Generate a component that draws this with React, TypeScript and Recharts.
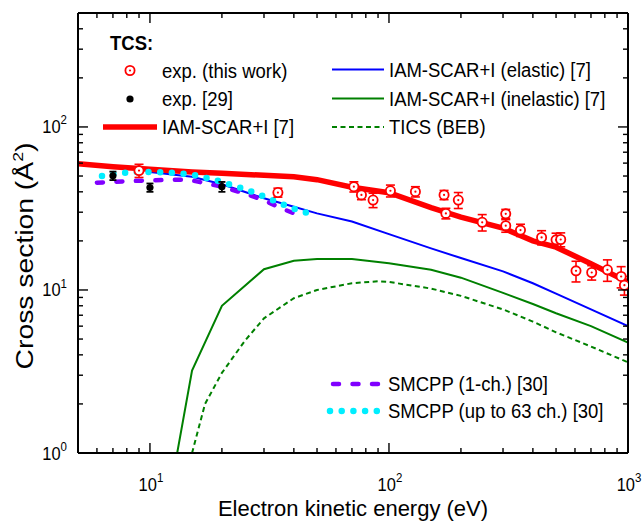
import React from 'react';
import { ComposedChart, Line, Scatter, XAxis, YAxis, ErrorBar } from 'recharts';

// ---------- axis ticks ----------
const X_TICKS = [6, 7, 8, 9, 10, 20, 30, 40, 50, 60, 70, 80, 90, 100, 200, 300, 400, 500, 600, 700, 800, 900, 1000];
const X_MAJOR = [10, 100, 1000];
const Y_TICKS = [1, 2, 3, 4, 5, 6, 7, 8, 9, 10, 20, 30, 40, 50, 60, 70, 80, 90, 100, 200, 300, 400];
const Y_MAJOR = [1, 10, 100];

// ---------- IAM-SCAR+I total ----------
const totalE = [5, 7, 10, 15, 20, 30, 40, 50, 70, 100, 150, 200, 300, 400, 500, 700, 1000];
const totalCS = [59.5, 57, 55, 53, 52, 50.5, 49.5, 47.5, 42.7, 39.5, 32, 28, 24, 20, 18.3, 14.5, 11.2];

// ---------- IAM-SCAR+I elastic ----------
const elasticE = [10, 15, 20, 30, 40, 50, 70, 100, 150, 200, 300, 400, 500, 700, 1000];
const elasticCS = [53, 49.5, 44.5, 36.5, 32.4, 29.5, 26.3, 22, 18, 15.7, 13, 11, 9.5, 7.6, 6.0];

// ---------- IAM-SCAR+I inelastic ----------
const inelE = [13, 15, 20, 30, 40, 50, 70, 100, 150, 200, 300, 400, 500, 700, 1000];
const inelCS = [1.0, 3.2, 8.0, 13.4, 15.1, 15.5, 15.5, 14.6, 13.3, 11.9, 9.6, 8.2, 7.2, 6.0, 4.75];

// ---------- TICS (BEB) ----------
const ticsE = [15, 17, 20, 25, 30, 40, 50, 70, 90, 100, 150, 200, 300, 400, 500, 700, 1000];
const ticsCS = [1.0, 2.0, 3.1, 4.9, 6.7, 8.9, 10, 11.0, 11.3, 11.2, 10.2, 9.2, 7.6, 6.4, 5.5, 4.5, 3.6];

// ---------- SMCPP (1-ch.) ----------
const smc1E = [6, 8, 10, 13, 15, 20, 25, 30, 35, 40, 44];
const smc1CS = [45.5, 46.5, 47, 47.5, 47, 43, 39, 35.5, 32, 29.5, 28];

// ---------- SMCPP (up to 63 ch.) ----------
const smc63E = [6.3, 7, 8, 9, 10, 12, 15, 18, 20, 25, 30, 35, 40, 45];
const smc63CS = [50, 51.5, 52.5, 53, 53, 52.5, 51, 48, 46, 41.5, 37.5, 34, 31.5, 29.8];

// ---------- exp. (this work) ----------
const expE = [9, 34.3, 71.3, 76.7, 85.8, 101.4, 129, 170, 173, 195, 245.5, 308, 308, 355, 435, 500, 523, 606, 705, 820, 936, 966];
const expCS = [54, 39.6, 43, 38.3, 35.6, 40.6, 40.1, 38.3, 29.5, 35.6, 26.0, 29.3, 24.8, 23.3, 21.0, 20.3, 20.4, 13.1, 12.8, 13.3, 12.1, 10.7];
const expErr = [5, 2.5, 3.1, 2.5, 3.6, 3.4, 2.9, 2.5, 2.2, 4, 3, 1.9, 2.2, 2, 2.1, 2, 2, 1.9, 1.3, 2, 1.8, 1.4];

// ---------- exp. [29] ----------
const ref29E = [7, 10, 20];
const ref29CS = [50.2, 42.5, 43];
const ref29Err = [3, 2.5, 3];

const zip = (xs: number[], ys: number[], es?: number[]) =>
  xs.map((x, i) => (es ? { x, y: ys[i], err: es[i] } : { x, y: ys[i] }));

const totalData = zip(totalE, totalCS);
const elasticData = zip(elasticE, elasticCS);
const inelData = zip(inelE, inelCS);
const ticsData = zip(ticsE, ticsCS);
const smc1Data = zip(smc1E, smc1CS);
const smc63Data = zip(smc63E, smc63CS);
const expData = zip(expE, expCS, expErr);
const ref29Data = zip(ref29E, ref29CS, ref29Err);

const FONT = '"Liberation Sans", Arial, Helvetica, sans-serif';
const RED = '#ff0000';
const BLUE = '#0000ff';
const GREEN = '#008000';
const PURPLE = '#8000ff';
const CYAN = '#00eeff';

const STY = {
  total: { stroke: RED, strokeWidth: 5.5 },
  elastic: { stroke: BLUE, strokeWidth: 2 },
  inel: { stroke: GREEN, strokeWidth: 2 },
  tics: { stroke: GREEN, strokeWidth: 2, strokeDasharray: '5 3.5' },
  smc1: { stroke: PURPLE, strokeWidth: 4.5, strokeDasharray: '6 13.5', strokeLinecap: 'round' as const },
  smc63: { stroke: CYAN, strokeWidth: 6.5, strokeDasharray: '0 11.7', strokeLinecap: 'round' as const },
};

const MAJ = 10;
const MIN = 5;
const TICK_W = 1.4;

const sup = (v: number) => Math.round(Math.log10(v));

const TickLabel = ({ x, y, anchor, v }: any) => (
  <text
    transform={`translate(${x},${y}) scale(1,1.12)`}
    x={0}
    y={0}
    textAnchor={anchor}
    fontSize={16.5}
    fontFamily={FONT}
    fill="#000"
  >
    10<tspan dy={-8} fontSize={11.5}>{sup(v)}</tspan>
  </text>
);

const XTickBottom = (p: any) => {
  const { x, y, payload } = p;
  const major = X_MAJOR.includes(payload.value);
  return (
    <g>
      <line x1={x} x2={x} y1={y} y2={y - (major ? MAJ : MIN)} stroke="#000" strokeWidth={TICK_W} />
      {major && <TickLabel x={x + 1} y={y + 37.5} anchor="middle" v={payload.value} />}
    </g>
  );
};

const XTickTop = (p: any) => {
  const { x, y, payload } = p;
  const major = X_MAJOR.includes(payload.value);
  return <line x1={x} x2={x} y1={y} y2={y + (major ? MAJ : MIN)} stroke="#000" strokeWidth={TICK_W} />;
};

const YTickLeft = (p: any) => {
  const { x, y, payload } = p;
  const major = Y_MAJOR.includes(payload.value);
  return (
    <g>
      <line x1={x} x2={x + (major ? MAJ : MIN)} y1={y} y2={y} stroke="#000" strokeWidth={TICK_W} />
      {major && <TickLabel x={x - 11} y={y + 6.5} anchor="end" v={payload.value} />}
    </g>
  );
};

const YTickRight = (p: any) => {
  const { x, y, payload } = p;
  const major = Y_MAJOR.includes(payload.value);
  return <line x1={x} x2={x - (major ? MAJ : MIN)} y1={y} y2={y} stroke="#000" strokeWidth={TICK_W} />;
};

const RedMarker = (p: any) => (
  <g>
    <circle cx={p.cx} cy={p.cy} r={4.6} fill="#fff" stroke={RED} strokeWidth={1.8} />
    <circle cx={p.cx} cy={p.cy} r={1.1} fill={RED} />
  </g>
);

const BlackMarker = (p: any) => <circle cx={p.cx} cy={p.cy} r={3.6} fill="#000" />;

const LegendText = ({ x, y, children, bold }: any) => (
  <text
    transform={`translate(${x},${y}) scale(1,1.1)`}
    x={0}
    y={0}
    fontSize={18.5}
    fontFamily={FONT}
    fontWeight={bold ? 'bold' : 'normal'}
    dominantBaseline="central"
    fill="#000"
  >
    {children}
  </text>
);

export default function App() {
  const axisLine = { stroke: '#000', strokeWidth: 2 };
  return (
    <div style={{ position: 'absolute', left: 0, top: 0, width: 642, height: 521, background: '#fff' }}>
      <ComposedChart width={642} height={521} margin={{ top: 12, right: 13, bottom: 67, left: 77 }}>
        <XAxis
          xAxisId="b"
          dataKey="x"
          type="number"
          scale="log"
          domain={[5, 1000]}
          allowDataOverflow
          ticks={X_TICKS}
          interval={0}
          height={1}
          tickSize={0}
          tickMargin={0}
          tickLine={false}
          axisLine={axisLine}
          tick={<XTickBottom />}
        />
        <XAxis
          xAxisId="t"
          orientation="top"
          dataKey="x"
          type="number"
          scale="log"
          domain={[5, 1000]}
          allowDataOverflow
          ticks={X_TICKS}
          interval={0}
          height={1}
          tickSize={0}
          tickMargin={0}
          tickLine={false}
          axisLine={axisLine}
          tick={<XTickTop />}
        />
        <YAxis
          yAxisId="l"
          type="number"
          scale="log"
          domain={[1, 500]}
          allowDataOverflow
          ticks={Y_TICKS}
          interval={0}
          width={1}
          tickSize={0}
          tickMargin={0}
          tickLine={false}
          axisLine={axisLine}
          tick={<YTickLeft />}
        />
        <YAxis
          yAxisId="r"
          orientation="right"
          type="number"
          scale="log"
          domain={[1, 500]}
          allowDataOverflow
          ticks={Y_TICKS}
          interval={0}
          width={1}
          tickSize={0}
          tickMargin={0}
          tickLine={false}
          axisLine={axisLine}
          tick={<YTickRight />}
        />
        <Line xAxisId="b" yAxisId="l" data={elasticData} dataKey="y" type="linear" dot={false} isAnimationActive={false} {...STY.elastic} />
        <Line xAxisId="b" yAxisId="l" data={inelData} dataKey="y" type="linear" dot={false} isAnimationActive={false} {...STY.inel} />
        <Line xAxisId="b" yAxisId="l" data={ticsData} dataKey="y" type="linear" dot={false} isAnimationActive={false} {...STY.tics} />
        <Line xAxisId="b" yAxisId="l" data={totalData} dataKey="y" type="linear" dot={false} isAnimationActive={false} {...STY.total} />
        <Line xAxisId="b" yAxisId="l" data={smc1Data} dataKey="y" type="linear" dot={false} isAnimationActive={false} {...STY.smc1} />
        <Line xAxisId="b" yAxisId="l" data={smc63Data} dataKey="y" type="linear" dot={false} isAnimationActive={false} {...STY.smc63} />
        <Scatter xAxisId="b" yAxisId="l" data={ref29Data} dataKey="y" shape={<BlackMarker />} isAnimationActive={false}>
          <ErrorBar dataKey="err" direction="y" width={3.5} stroke="#000" strokeWidth={1.8} />
        </Scatter>
        <Scatter xAxisId="b" yAxisId="l" data={expData} dataKey="y" shape={<RedMarker />} isAnimationActive={false}>
          <ErrorBar dataKey="err" direction="y" width={4.5} stroke={RED} strokeWidth={1.6} />
        </Scatter>
      </ComposedChart>

      <svg width={642} height={521} style={{ position: 'absolute', left: 0, top: 0, pointerEvents: 'none' }}>
        {/* legend, left column */}
        <LegendText x={110} y={43} bold>TCS:</LegendText>
        <circle cx={130} cy={70.5} r={4.6} fill="#fff" stroke={RED} strokeWidth={1.8} />
        <circle cx={130} cy={70.5} r={1.1} fill={RED} />
        <LegendText x={162} y={71}>exp. (this work)</LegendText>
        <circle cx={130} cy={99} r={3.6} fill="#000" />
        <LegendText x={162} y={99}>exp. [29]</LegendText>
        <line x1={103} x2={157} y1={127} y2={127} {...STY.total} />
        <LegendText x={162} y={127}>IAM-SCAR+I [7]</LegendText>
        {/* legend, right column */}
        <line x1={332} x2={384} y1={69.5} y2={69.5} {...STY.elastic} />
        <LegendText x={389} y={70}>IAM-SCAR+I (elastic) [7]</LegendText>
        <line x1={332} x2={384} y1={98.5} y2={98.5} {...STY.inel} />
        <LegendText x={389} y={99}>IAM-SCAR+I (inelastic) [7]</LegendText>
        <line x1={332} x2={384} y1={127} y2={127} {...STY.tics} />
        <LegendText x={389} y={127}>TICS (BEB)</LegendText>
        {/* legend, bottom */}
        <line x1={333} x2={378} y1={384} y2={384} {...STY.smc1} />
        <LegendText x={388} y={384}>SMCPP (1-ch.) [30]</LegendText>
        <line x1={330} x2={378} y1={411} y2={411} {...STY.smc63} />
        <LegendText x={388} y={411}>SMCPP (up to 63 ch.) [30]</LegendText>

        {/* axis titles */}
        <text x={353} y={515.5} textAnchor="middle" fontSize={22} fontFamily={FONT} fill="#000">
          Electron kinetic energy (eV)
        </text>
        <text
          transform="translate(33,256) rotate(-90) scale(1.18,1)"
          x={0}
          y={0}
          textAnchor="middle"
          fontSize={24}
          fontFamily={FONT}
          fill="#000"
        >
          Cross section (Å<tspan dy={-10} fontSize={15}>2</tspan><tspan dy={10}>)</tspan>
        </text>
      </svg>
    </div>
  );
}
